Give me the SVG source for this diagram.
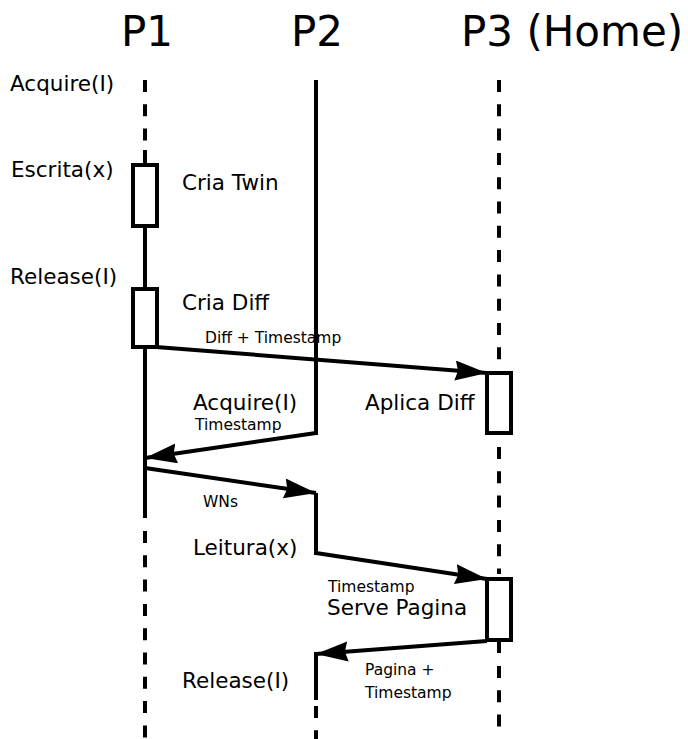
<svg xmlns="http://www.w3.org/2000/svg" width="688" height="739" viewBox="0 0 688 739">
<style>
.t{font-family:"DejaVu Sans",Verdana,sans-serif;fill:#000}
.h{font-size:42px}
.m{font-size:21.5px}
.s{font-size:15.5px}
.ln{stroke:#000;stroke-width:4;fill:none}
.ds{stroke:#000;stroke-width:4;fill:none;stroke-dasharray:12 12.3}
.box{stroke:#000;stroke-width:4;fill:#fff}
.ar{stroke:#000;stroke-width:4;fill:none;marker-end:url(#ah)}
</style>
<defs>
<marker id="ah" markerUnits="userSpaceOnUse" markerWidth="34" markerHeight="22" refX="32" refY="10" orient="auto">
<path d="M0,0 L32,10 L0,20 L3,10 Z" fill="#000"/>
</marker>
</defs>
<rect width="688" height="739" fill="#fff"/>
<g id="headers">
<text class="t h" x="121" y="46">P1</text>
<text class="t h" x="291" y="46">P2</text>
<text class="t h" x="461" y="46">P3 (Home)</text>
</g>
<g id="P1">
<line class="ds" x1="145" y1="80" x2="145" y2="150"/>
<line class="ln" x1="145" y1="150" x2="145" y2="165"/>
<line class="ln" x1="145" y1="226" x2="145" y2="289"/>
<line class="ln" x1="145" y1="346" x2="145" y2="518"/>
<line class="ds" x1="145" y1="531" x2="145" y2="739"/>
</g>
<g id="P2">
<line class="ln" x1="316" y1="80" x2="316" y2="435"/>
<line class="ln" x1="316" y1="493" x2="316" y2="555"/>
<line class="ln" x1="316" y1="652" x2="316" y2="700"/>
<line class="ds" x1="316" y1="706" x2="316" y2="739"/>
</g>
<g id="P3">
<line class="ds" x1="499" y1="80" x2="499" y2="372"/>
<line class="ds" x1="499" y1="447" x2="499" y2="574"/>
<line class="ln" x1="499" y1="640" x2="499" y2="653"/>
<line class="ds" x1="499" y1="666" x2="499" y2="739"/>
</g>
<g id="box-escrita"><rect class="box" x="133" y="165" width="24" height="61"/></g>
<g id="box-release"><rect class="box" x="133" y="289" width="24" height="58"/></g>
<g id="box-aplica"><rect class="box" x="487" y="373" width="24" height="60"/></g>
<g id="box-serve"><rect class="box" x="487" y="579" width="24" height="61"/></g>
<g id="connectors">
<line class="ar" x1="156" y1="347" x2="487" y2="373"/>
<line class="ar" x1="316" y1="433" x2="145" y2="458"/>
<line class="ar" x1="145" y1="468" x2="316" y2="493"/>
<line class="ar" x1="316" y1="553" x2="487" y2="579"/>
<line class="ar" x1="487" y1="641" x2="316" y2="654"/>
</g>
<g id="labels">
<text class="t m" x="10" y="91">Acquire(I)</text>
<text class="t m" x="11" y="177">Escrita(x)</text>
<text class="t m" x="182" y="190">Cria Twin</text>
<text class="t m" x="10" y="284">Release(I)</text>
<text class="t m" x="182" y="310">Cria Diff</text>
<text class="t s" x="205" y="343">Diff + Timestamp</text>
<text class="t m" x="193" y="410">Acquire(I)</text>
<text class="t s" x="195" y="430">Timestamp</text>
<text class="t m" x="365" y="410">Aplica Diff</text>
<text class="t s" x="203" y="507">WNs</text>
<text class="t m" x="193" y="555">Leitura(x)</text>
<text class="t s" x="328" y="592">Timestamp</text>
<text class="t m" x="327" y="615">Serve Pagina</text>
<text class="t s" x="365" y="675">Pagina +</text>
<text class="t s" x="365" y="698">Timestamp</text>
<text class="t m" x="182" y="688">Release(I)</text>
</g>
</svg>
